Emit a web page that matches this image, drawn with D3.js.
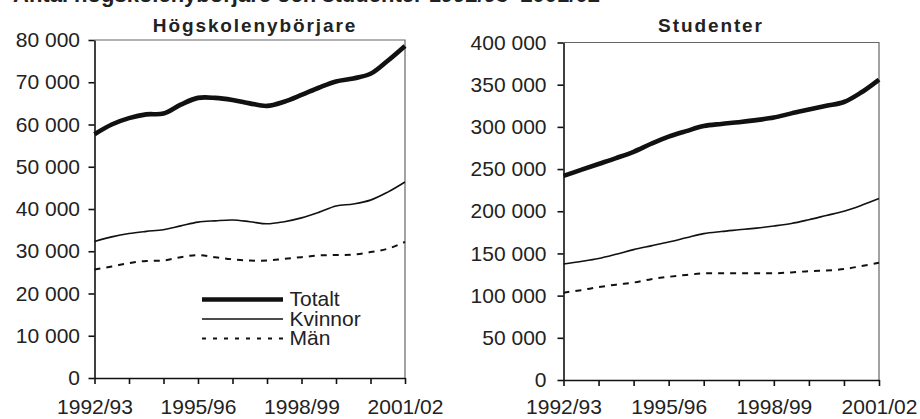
<!DOCTYPE html>
<html>
<head>
<meta charset="utf-8">
<script src="https://cdn.jsdelivr.net/npm/d3@7"></script>
<style>
  html, body { margin: 0; padding: 0; background: #fff; }
  svg { display: block; }
  text { font-family: "Liberation Sans", Arial, Helvetica, sans-serif; fill: #222; }
</style>
</head>
<body>
<svg id="chart" width="920" height="419"></svg>
<script>
// ---------- data ----------
const years = ["1992/93","1993/94","1994/95","1995/96","1996/97","1997/98","1998/99","1999/00","2000/01","2001/02"];
const shownYearLabels = ["1992/93","1995/96","1998/99","2001/02"];
// half-year reading positions (index into years)
const positions = [0,0.5,1,1.5,2,2.5,3,3.5,4,4.5,5,5.5,6,6.5,7,7.5,8,8.5,9];

// Högskolenybörjare
const nyTotalt  = [57700,60000,61500,62400,62600,64700,66300,66300,65800,65000,64400,65400,67000,68700,70200,70900,72000,75100,78600];
const nyKvinnor = [32300,33400,34200,34700,35100,36000,36900,37200,37400,37000,36500,37000,37900,39200,40700,41200,42100,44000,46400];
const nyMan     = [25700,26400,27200,27700,27800,28600,29100,28600,28100,27800,27800,28200,28600,29000,29100,29200,29800,30600,32200];

// Studenter
const stTotalt  = [242000,249000,256000,263000,270500,280000,288500,295000,301000,303500,305500,308000,311000,316000,320500,325000,329500,341000,356000];
const stKvinnor = [137500,140500,144000,149000,154500,159000,163500,168500,173500,176000,178000,180000,182500,185500,190000,195000,200000,207000,215000];
const stMan     = [103500,106500,110000,113000,115500,119500,122300,124500,126400,126500,126500,126500,126500,127500,129000,129800,131500,135000,139000];

const yTicksNy = [0,10000,20000,30000,40000,50000,60000,70000,80000];
const yTicksSt = [0,50000,100000,150000,200000,250000,300000,350000,400000];

const seriesNames = ["Totalt","Kvinnor","Män"];
const headTitle = "Antal högskolenybörjare och studenter 1992/93–2001/02";

// ---------- drawing ----------
const svg = d3.select("#chart");
const fmt = v => d3.format(",")(v).replace(/,/g, " ");
const styles = {
  "Totalt":  { w: 4.6, dash: null },
  "Kvinnor": { w: 1.6, dash: null },
  "Män":     { w: 2.0, dash: "6,6" }
};

// partially cut header at top (only its lower edge is inside the picture)
svg.append("text")
  .attr("x", 13).attr("y", 1.5)
  .attr("font-size", 22).attr("font-weight", "bold")
  .text(headTitle);

function panel(cfg) {
  const x = d3.scaleLinear().domain([0, years.length - 1]).range([cfg.x0, cfg.x1]);
  const y = d3.scaleLinear().domain([0, cfg.yMax]).range([cfg.yB, cfg.yT]);
  const g = svg.append("g");

  // frame (top & right)
  g.append("path")
    .attr("d", `M${cfg.x0},${cfg.yT}H${cfg.x1}V${cfg.yB}`)
    .attr("fill", "none").attr("stroke", "#666").attr("stroke-width", 1.2);

  // y axis
  const ya = g.append("g").attr("transform", `translate(${cfg.x0},0)`)
    .call(d3.axisLeft(y).tickValues(cfg.yTicks).tickFormat(fmt)
      .tickSize(6).tickSizeOuter(0).tickPadding(cfg.yPad));
  ya.selectAll("text").attr("font-size", 21).style("font-family", null);
  ya.selectAll("line, path").attr("stroke", "#111").attr("stroke-width", 1.6);

  // x axis
  const xa = g.append("g").attr("transform", `translate(0,${cfg.yB})`)
    .call(d3.axisBottom(x).tickValues(d3.range(years.length))
      .tickFormat(i => shownYearLabels.includes(years[i]) ? years[i] : "")
      .tickSize(6).tickSizeOuter(0).tickPadding(cfg.xPad));
  xa.selectAll("text").attr("font-size", 21).style("font-family", null);
  xa.selectAll("line, path").attr("stroke", "#111").attr("stroke-width", 1.6);

  // lines
  const line = d3.line().x((d, i) => x(positions[i])).y(d => y(d)).curve(d3.curveCatmullRom.alpha(0.5));
  cfg.series.forEach((vals, k) => {
    const st = styles[seriesNames[k]];
    g.append("path").datum(vals)
      .attr("d", line)
      .attr("fill", "none").attr("stroke", "#111")
      .attr("stroke-width", st.w)
      .attr("stroke-dasharray", st.dash)
      .attr("stroke-linejoin", "round");
  });

  // panel title
  g.append("text")
    .attr("x", cfg.titleX).attr("y", 32)
    .attr("text-anchor", "middle")
    .attr("font-size", 19).attr("font-weight", "bold")
    .attr("letter-spacing", 1.9)
    .text(cfg.title);
  return { x, y };
}

panel({ x0: 94.5, x1: 405, yT: 40, yB: 378, yMax: 80000, yTicks: yTicksNy, yPad: 8.5, xPad: 15.5,
        series: [nyTotalt, nyKvinnor, nyMan], title: "Högskolenybörjare", titleX: 255 });
panel({ x0: 563.5, x1: 879, yT: 42.5, yB: 380, yMax: 400000, yTicks: yTicksSt, yPad: 11, xPad: 13.5,
        series: [stTotalt, stKvinnor, stMan], title: "Studenter", titleX: 711 });

// legend
const lg = svg.append("g");
seriesNames.forEach((name, k) => {
  const st = styles[name];
  const ly = 299.5 + k * 19.5;
  lg.append("line")
    .attr("x1", 202).attr("x2", 283).attr("y1", ly).attr("y2", ly)
    .attr("stroke", "#111").attr("stroke-width", st.dash ? 1.8 : st.w)
    .attr("stroke-dasharray", st.dash ? "4,7" : null);
  lg.append("text")
    .attr("x", 289.5).attr("y", ly + 6.8)
    .attr("font-size", 21)
    .text(name);
});
</script>
</body>
</html>
